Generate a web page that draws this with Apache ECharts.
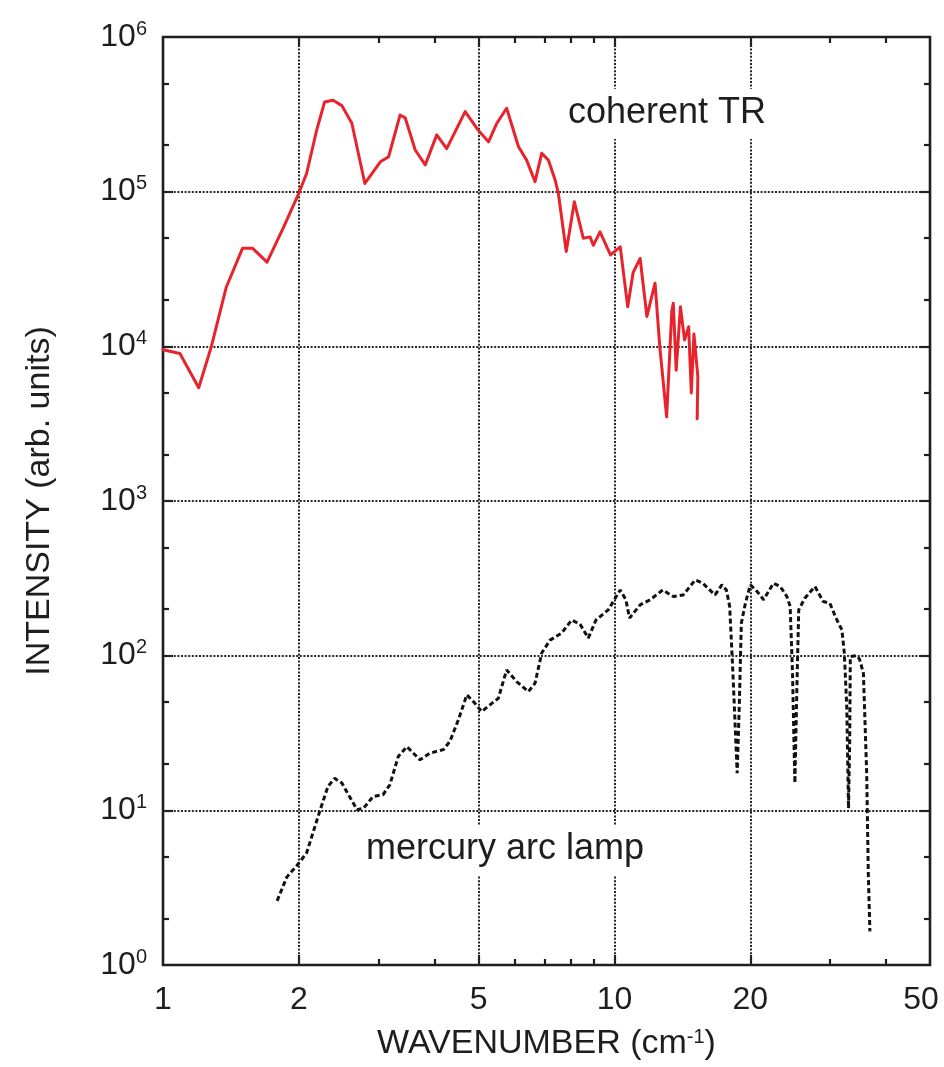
<!DOCTYPE html>
<html><head><meta charset="utf-8">
<script src="https://cdn.jsdelivr.net/npm/echarts@6/dist/echarts.min.js"></script>
<style>html,body{margin:0;padding:0;background:#fff}#c{width:944px;height:1067px}</style>
</head><body><div id="c"></div><script>
const xLabelValues = [1, 2, 5, 10, 20, 50];
const xGridValues = [2, 5, 10, 20];
const xMinorValues = [3, 4, 6, 7, 8, 9, 30, 40];
const yLabelValues = [1, 10, 100, 1000, 10000, 100000, 1000000];
const yGridValues = [10, 100, 1000, 10000, 100000];
const yMinorValues = [2, 5, 20, 50, 200, 500, 2000, 5000, 20000, 50000, 200000, 500000];

// coherent transition radiation (red)
const trX = [1.0, 1.09, 1.2, 1.28, 1.38, 1.5, 1.58, 1.7, 1.85, 2.0, 2.08, 2.19, 2.28, 2.38, 2.49, 2.62, 2.8, 3.03, 3.16, 3.35, 3.44, 3.62, 3.81, 4.04, 4.25, 4.67, 4.99, 5.26, 5.49, 5.77, 6.13, 6.39, 6.67, 6.9, 7.14, 7.39, 7.51, 7.82, 8.15, 8.53, 8.83, 8.98, 9.29, 9.8, 10.3, 10.7, 11.0, 11.4, 11.8, 12.3, 12.6, 13.05, 13.4, 13.5, 13.7, 14.0, 14.3, 14.6, 14.8, 15.0, 15.3, 15.25];
const trY = [9.5e3, 9.0e3, 5.4e3, 1.0e4, 2.4e4, 4.3e4, 4.3e4, 3.5e4, 5.9e4, 9.8e4, 1.31e5, 2.5e5, 3.8e5, 3.9e5, 3.6e5, 2.77e5, 1.13e5, 1.56e5, 1.68e5, 3.13e5, 3.0e5, 1.86e5, 1.49e5, 2.33e5, 1.9e5, 3.29e5, 2.5e5, 2.1e5, 2.77e5, 3.46e5, 1.95e5, 1.6e5, 1.16e5, 1.77e5, 1.6e5, 1.19e5, 9.8e4, 4.1e4, 8.6e4, 5.0e4, 5.1e4, 4.5e4, 5.5e4, 3.9e4, 4.4e4, 1.8e4, 3.0e4, 3.7e4, 1.56e4, 2.56e4, 1.0e4, 3.5e3, 1.7e4, 1.9e4, 7e3, 1.8e4, 1.1e4, 1.34e4, 5e3, 1.2e4, 6.4e3, 3.4e3];

// mercury arc lamp (black dashed)
const hgX = [1.79, 1.88, 1.98, 2.08, 2.23, 2.32, 2.40, 2.49, 2.69, 2.78, 2.92, 3.07, 3.18, 3.32, 3.47, 3.71, 3.90, 4.18, 4.32, 4.51, 4.71, 4.87, 5.08, 5.30, 5.53, 5.77, 6.07, 6.45, 6.67, 6.90, 7.20, 7.64, 8.04, 8.39, 8.75, 9.1, 9.69, 10.3, 10.6, 10.8, 11.4, 12.0, 12.8, 13.5, 14.2, 15.1, 15.7, 16.1, 16.7, 17.3, 17.7, 18.0, 18.3, 18.7, 18.9, 19.1, 19.5, 20.0, 20.7, 21.4, 22.5, 23.3, 24.1, 24.5, 24.8, 25.1, 25.4, 25.6, 26.4, 27.8, 29.0, 30.0, 31.1, 31.9, 32.3, 32.7, 33.0, 33.2, 33.3, 34.4, 34.9, 35.6, 36.2, 36.5, 36.8];
const hgY = [2.6, 3.7, 4.4, 5.3, 10.1, 14.3, 16.1, 15, 10.1, 10.3, 12.3, 12.6, 14.6, 22.3, 25.8, 21.2, 23.4, 24.7, 27.9, 38.4, 55.8, 50.5, 43.5, 48.1, 53, 80.9, 68, 58.6, 66.4, 104, 126, 140, 170, 160, 130, 170, 198, 266, 230, 175, 213, 230, 266, 241, 247, 309, 294, 273, 247, 287, 266, 208, 77, 17.4, 47, 162, 218, 287, 260, 230, 294, 280, 241, 208, 77, 15, 77, 198, 235, 280, 224, 218, 170, 147, 104, 47, 10.3, 28.6, 98.6, 100, 95, 77, 17.4, 3.9, 1.65];

const FONT = '"Liberation Sans", Arial, sans-serif';
const INK = '#1e1e1e';
const chart = echarts.init(document.getElementById('c'), null, { renderer: 'canvas' });

function baseX(extra) {
  return Object.assign({
    type: 'log', logBase: 10, min: 1, max: 50, gridIndex: 0,
    axisLine: { show: false }, splitLine: { show: false },
    axisLabel: { show: false }, axisTick: { show: false }, minorTick: { show: false }
  }, extra);
}
function baseY(extra) {
  return Object.assign({
    type: 'log', logBase: 10, min: 1, max: 1000000, gridIndex: 0,
    axisLine: { show: false }, splitLine: { show: false },
    axisLabel: { show: false }, axisTick: { show: false }, minorTick: { show: false }
  }, extra);
}
const majorTick = (vals, len) => ({ show: true, inside: true, length: len, customValues: vals, lineStyle: { color: INK, width: 2.2 } });

const xAxes = [
  baseX({
    position: 'bottom',
    name: '{t|WAVENUMBER (cm}{s|-1}{t|)}',
    nameLocation: 'middle', nameGap: 62,
    nameTextStyle: { rich: {
      t: { fontFamily: FONT, fontSize: 34, color: INK },
      s: { fontFamily: FONT, fontSize: 20, color: INK, verticalAlign: 'top', lineHeight: 10 }
    } },
    axisLabel: { show: true, customValues: xLabelValues, margin: 19, fontFamily: FONT, fontSize: 32, color: INK,
      formatter: v => {
        const s = String(Math.round(v));
        return s === '50' ? '{e|' + s + '}' : s;
      },
      rich: { e: { fontFamily: FONT, fontSize: 32, color: INK, padding: [0, 18, 0, 0] } } },
    axisTick: majorTick(xGridValues, 10)
  }),
  baseX({ position: 'bottom', axisTick: majorTick(xMinorValues, 6) }),
  baseX({ position: 'top', axisTick: majorTick(xGridValues, 10) }),
  baseX({ position: 'top', axisTick: majorTick(xMinorValues, 6) })
];
const yAxes = [
  baseY({
    position: 'left',
    name: 'INTENSITY (arb. units)', nameLocation: 'middle', nameRotate: 90, nameGap: 106,
    nameTextStyle: { fontFamily: FONT, fontSize: 34, color: INK },
    axisLabel: { show: true, customValues: yLabelValues, margin: 16,
      formatter: v => '{b|10}{s|' + Math.round(Math.log10(v)) + '}',
      rich: {
        b: { fontFamily: FONT, fontSize: 32, color: INK, lineHeight: 36 },
        s: { fontFamily: FONT, fontSize: 20, color: INK, verticalAlign: 'top', lineHeight: 12 }
      } },
    axisTick: majorTick(yGridValues, 10)
  }),
  baseY({ position: 'left', axisTick: majorTick(yMinorValues, 6) }),
  baseY({ position: 'right', axisTick: majorTick(yGridValues, 10) }),
  baseY({ position: 'right', axisTick: majorTick(yMinorValues, 6) })
];

const gridLineStyle = { color: '#262626', width: 2, type: [2, 1.6] };

chart.setOption({
  backgroundColor: '#ffffff',
  animation: false,
  grid: { left: 163, right: 14, top: 37, bottom: 102, outerBoundsMode: 'none', containLabel: false,
    show: true, borderColor: INK, borderWidth: 2.6, backgroundColor: 'transparent' },
  xAxis: xAxes,
  yAxis: yAxes,
  series: [
    {
      name: 'grid', type: 'line', data: [], z: 1, silent: true,
      markLine: {
        silent: true, symbol: 'none', animation: false, label: { show: false },
        lineStyle: gridLineStyle,
        data: xGridValues.map(v => ({ xAxis: v })).concat(yGridValues.map(v => ({ yAxis: v })))
      }
    },
    {
      name: 'coherent TR', type: 'line', z: 5, showSymbol: false, symbol: 'none',
      lineStyle: { color: '#e8232b', width: 3, join: 'round', cap: 'round' },
      data: trX.map((x, i) => [x, trY[i]])
    },
    {
      name: 'mercury arc lamp', type: 'line', z: 5, showSymbol: false, symbol: 'none',
      lineStyle: { color: '#111111', width: 3, type: [5, 3] },
      data: hgX.map((x, i) => [x, hgY[i]])
    }
  ],
  graphic: [
    { type: 'text', left: 560, top: 89, z: 100, silent: true,
      style: { text: 'coherent TR', fontFamily: FONT, fontSize: 36, fill: INK, backgroundColor: '#fff', padding: [6, 8, 8, 8] } },
    { type: 'text', left: 358, top: 825, z: 100, silent: true,
      style: { text: 'mercury arc lamp', fontFamily: FONT, fontSize: 36, fill: INK, backgroundColor: '#fff', padding: [6, 8, 8, 8] } }
  ]
});
</script></body></html>
